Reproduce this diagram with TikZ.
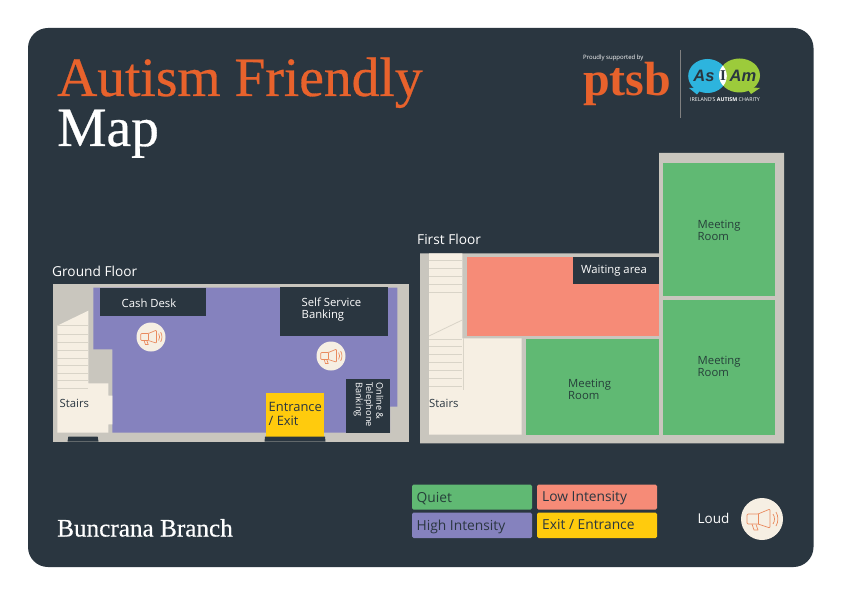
\documentclass[tikz,border=0pt]{standalone}
\usepackage{fontspec}
\setmainfont{Open Sans}
\newfontfamily\titlefont{Liberation Serif}
\newfontfamily\titleheavy[FakeBold=0.5]{Liberation Serif}
\newfontfamily\logosans{Liberation Sans}
\definecolor{bgdark}{HTML}{2A3640}
\definecolor{wallc}{HTML}{C9C6BE}
\definecolor{creamc}{HTML}{F6EFE3}
\definecolor{stepc}{HTML}{D9D4C8}
\definecolor{greenc}{HTML}{60B973}
\definecolor{purplec}{HTML}{8582BE}
\definecolor{salmonc}{HTML}{F68B77}
\definecolor{yellowc}{HTML}{FFCB0D}
\definecolor{orangec}{HTML}{E8622C}
\definecolor{megac}{HTML}{E98A5E}
\definecolor{darktext}{HTML}{26403A}
\definecolor{logoblue}{HTML}{2DB4DE}
\definecolor{logogreen}{HTML}{9CCB3B}
\tikzset{
  lab/.style={inner sep=0pt,anchor=base west,font=\fontsize{#1}{#1}\selectfont},
  roomlab/.style={inner sep=0pt,anchor=west,align=left,font=\fontsize{11.3}{12}\selectfont},
  stairline/.style={stepc,line width=0.8pt},
  legendbox/.style={rounded corners=1.5pt},
  mega/.pic={
    \draw[megac,line width=0.7pt,line join=round,rounded corners=1pt]
      (-15,-5) -- (-4,-5) -- (8,-10) -- (8,9) -- (-4,5) -- (-15,5) -- cycle;
    \draw[megac,line width=0.7pt] (-4,-5) -- (-4,5);
    \draw[megac,line width=0.7pt,line join=round] (-10,5) -- (-8,11) -- (-4,11) -- (-6,5.5);
    \draw[megac,line width=0.7pt] (11,-5) .. controls (13,-2) and (13,2) .. (11,5);
    \draw[megac,line width=0.7pt] (14,-7) .. controls (16.5,-3) and (16.5,3) .. (14,7);
  }
}
\begin{document}
\begin{tikzpicture}[x=1pt,y=-1pt]
\useasboundingbox (0,0) rectangle (842,596);
\fill[white] (0,0) rectangle (842,596);
\fill[bgdark,rounded corners=20pt] (28,28) rectangle (813.5,567);

% Title
\node[inner sep=0pt,anchor=base west,text=orangec,font=\titleheavy\fontsize{55.5}{55.5}\selectfont] (title1) at (57,96) {Autism Friendly};
\node[inner sep=0pt,anchor=base west,text=white,font=\titleheavy\fontsize{55.5}{55.5}\selectfont] (title2) at (57,146) {Map};
\node[inner sep=0pt,anchor=base west,text=white,font=\titleheavy\fontsize{25.2}{25.2}\selectfont] (branch) at (57,536.5) {Buncrana Branch};

% Logo
\node[lab=6,text=white] (proud) at (583,60) {Proudly supported by};
\node[inner sep=0pt,anchor=base west,text=orangec,font=\titlefont\bfseries\fontsize{48}{48}\selectfont] (ptsb) at (583,96) {ptsb};
\draw[gray,line width=0.6pt] (680.5,50) -- (680.5,118);
\fill[logoblue] (689,88) -- (697,94.5) -- (702,88) -- cycle;
\fill[logogreen] (760,88) -- (751,94) -- (746,87) -- cycle;
\fill[logoblue] (707.5,76) ellipse (19.3pt and 17pt);
\fill[logogreen] (739.5,75.5) ellipse (20.5pt and 17pt);
\begin{scope}
  \clip (707.5,76) ellipse (19.3pt and 17pt);
  \fill[white] (739.5,75.5) ellipse (20.5pt and 17pt);
\end{scope}
\node[inner sep=0pt,text=bgdark,font=\logosans\bfseries\itshape\fontsize{16.5}{16.5}\selectfont] (asw) at (704,76) {As};
\node[inner sep=0pt,text=bgdark,font=\titlefont\bfseries\fontsize{15}{15}\selectfont] (iw) at (723,76) {I};
\node[inner sep=0pt,text=bgdark,font=\logosans\bfseries\itshape\fontsize{16.5}{16.5}\selectfont] (amw) at (743,76) {Am};
\node[inner sep=0pt,text=white,font=\fontsize{5.3}{5.3}\selectfont] (charity) at (725,99.5) {IRELAND'S \textbf{AUTISM} CHARITY};

% Ground floor
\node[lab=13.7,text=white] (gflabel) at (52,276.5) {Ground Floor};
\fill[wallc] (53,284) rectangle (409.3,441.7);
\fill[purplec] (93.3,287.7) -- (397.3,287.7) -- (397.3,406.7) -- (390,406.7) -- (390,432.5)
  -- (112.3,432.5) -- (112.3,349.3) -- (93.3,349.3) -- cycle;
\fill[creamc] (57.3,325.7) -- (88.3,310.7) -- (88.3,383.3) -- (108.3,383.3) -- (108.3,395.7)
  -- (112.3,395.7) -- (112.3,424.3) -- (108.3,424.3) -- (108.3,432.7) -- (57.3,432.7) -- cycle;
\foreach \yy in {325.7,334,342.3,350,358.3,365.7,373.3,380.7,388.3}
  \draw[stairline] (57.3,\yy) -- (88.3,\yy);
\fill[bgdark] (68.3,436.7) -- (97.7,436.7) -- (98.5,441.7) -- (67.5,441.7) -- cycle;
\fill[bgdark] (99.7,287.7) rectangle (206.3,315.7);
\fill[bgdark] (279.7,287.3) rectangle (388,336);
\fill[bgdark] (346,379) rectangle (390,432.7);
\fill[yellowc] (265.7,393.3) rectangle (324,436.7);
\fill[bgdark] (265,436.7) -- (325,436.7) -- (325.5,441.7) -- (264.5,441.7) -- cycle;
\node[roomlab,text=white] (cash) at (121.5,303) {Cash Desk};
\node[roomlab,text=white] (self) at (301.5,310) {Self Service\\Banking};
\node[inner sep=0pt,anchor=west,align=left,rotate=-90,text=white,font=\fontsize{9.2}{10.3}\selectfont] (online) at (368.5,382) {Online \&\\Telephone\\Banking};
\node[roomlab,text=bgdark] (gstairs) at (59.5,403.5) {Stairs};
\node[inner sep=0pt,anchor=west,align=left,text=bgdark,font=\fontsize{12.9}{14.5}\selectfont] (entrance) at (268.5,414) {Entrance\\/ Exit};
\fill[creamc] (151,337) circle (14.5pt);
\pic[scale=0.69] at (151,337) {mega};
\fill[creamc] (331,356) circle (14.5pt);
\pic[scale=0.69] at (331,356) {mega};

% First floor
\node[lab=13.7,text=white] (fflabel) at (417,244) {First Floor};
\fill[wallc] (420,253.3) -- (659,253.3) -- (659,153) -- (784,153) -- (784,443.3) -- (420,443.3) -- cycle;
\fill[creamc] (429,253.3) -- (462.3,253.3) -- (462.3,338.3) -- (521.7,338.3) -- (521.7,434.7) -- (429,434.7) -- cycle;
\foreach \yy in {260,268.3,276,284,292.3,339.3,346.7,354.3,362.3,370,378.3,386}
  \draw[stairline] (429,\yy) -- (462.3,\yy);
\draw[stairline] (429,336) -- (462.3,320);
\draw[stairline] (463,338) -- (463,390);
\fill[salmonc] (466.7,257.3) rectangle (659,336);
\fill[greenc] (526,338.7) rectangle (659,434.5);
\fill[greenc] (663,163) rectangle (774.7,296);
\fill[greenc] (663,300.3) rectangle (774.7,434.5);
\fill[bgdark] (573,257.3) rectangle (659,284);
\node[roomlab,text=white] (waiting) at (581,271) {Waiting area};
\node[roomlab,text=darktext] (m1) at (697.5,230) {Meeting\\Room};
\node[roomlab,text=darktext] (m2) at (697.5,366) {Meeting\\Room};
\node[roomlab,text=darktext] (m3) at (568,389.5) {Meeting\\Room};
\node[roomlab,text=bgdark] (fstairs) at (429,403.5) {Stairs};

% Legend
\fill[greenc,legendbox] (412,484.7) rectangle (532,509.7);
\fill[purplec,legendbox] (412,512.7) rectangle (532,538);
\fill[salmonc,legendbox] (537,484.7) rectangle (657,509.7);
\fill[yellowc,legendbox] (537,512.7) rectangle (657,538);
\node[lab=13.8,text=darktext] (lq) at (416.5,502) {Quiet};
\node[lab=13.8,text=bgdark] (lh) at (416.5,530.5) {High Intensity};
\node[lab=13.8,text=bgdark] (ll) at (542,501.5) {Low Intensity};
\node[lab=13.8,text=bgdark] (le) at (542,529.5) {Exit / Entrance};
\node[lab=13.5,text=white] (ld) at (697.5,523) {Loud};
\fill[creamc] (762,519) circle (21pt);
\pic at (762,519) {mega};
\end{tikzpicture}
\end{document}
